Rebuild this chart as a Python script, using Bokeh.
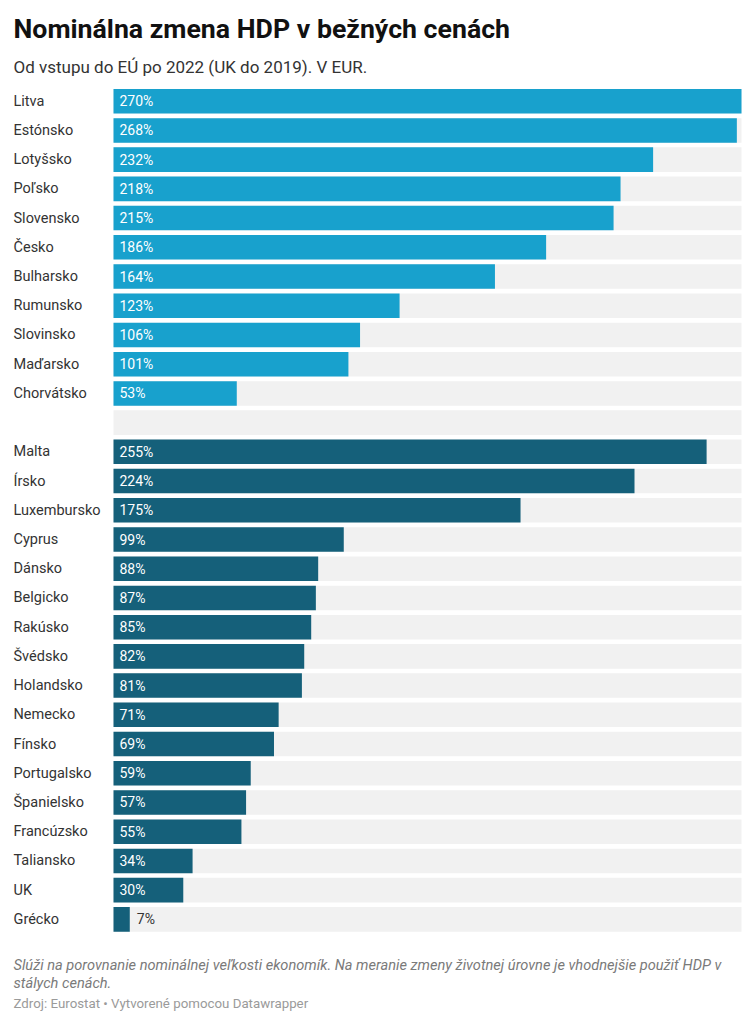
from bokeh.plotting import figure
from bokeh.models import ColumnDataSource, Range1d, Label
from bokeh.core.properties import value
from bokeh.embed import file_html
from bokeh.resources import INLINE

title = "Nominálna zmena HDP v bežných cenách"
subtitle = "Od vstupu do EÚ po 2022 (UK do 2019). V EUR."
note1 = "Slúži na porovnanie nominálnej veľkosti ekonomík. Na meranie zmeny životnej úrovne je vhodnejšie použiť HDP v"
note2 = "stálych cenách."
source_txt = "Zdroj: Eurostat • Vytvorené pomocou Datawrapper"

countries_new = ["Litva", "Estónsko", "Lotyšsko", "Poľsko", "Slovensko", "Česko",
                 "Bulharsko", "Rumunsko", "Slovinsko", "Maďarsko", "Chorvátsko"]
values_new = [270, 268, 232, 218, 215, 186, 164, 123, 106, 101, 53]

countries_old = ["Malta", "Írsko", "Luxembursko", "Cyprus", "Dánsko", "Belgicko",
                 "Rakúsko", "Švédsko", "Holandsko", "Nemecko", "Fínsko", "Portugalsko",
                 "Španielsko", "Francúzsko", "Taliansko", "UK", "Grécko"]
values_old = [255, 224, 175, 99, 88, 87, 85, 82, 81, 71, 69, 59, 57, 55, 34, 30, 7]

COL_NEW = "#18a1cd"
COL_OLD = "#15607a"
TRACK = "#f1f1f1"
FONT = "Roboto"

W, H = 750, 1020
BAR_LEFT, BAR_RIGHT = 113, 741   # pixel span of the value axis
TEXT_X = 13

rows_new = list(range(len(countries_new)))
gap_row = len(countries_new)
rows_old = [gap_row + 1 + i for i in range(len(countries_old))]
n_rows = gap_row + 1 + len(countries_old)

xmax = max(values_new + values_old)
px = (BAR_RIGHT - BAR_LEFT) / xmax
x_start = -BAR_LEFT / px
x_end = xmax + (W - BAR_RIGHT) / px

pitch = 29.22
first_center = 100.7
y_top = -first_center / pitch
y_bottom = y_top + H / pitch

p = figure(width=W, height=H, output_backend="svg", toolbar_location=None,
           x_range=Range1d(x_start, x_end), y_range=Range1d(y_bottom, y_top),
           x_axis_type=None, y_axis_type=None, min_border=0)
p.outline_line_color = None
p.grid.visible = False
p.background_fill_color = "white"
p.border_fill_color = "white"

track_src = ColumnDataSource(dict(y=list(range(n_rows)), r=[xmax] * n_rows))
p.hbar(y="y", left=0, right="r", height=0.84, source=track_src,
       fill_color=TRACK, line_color=None)

for rows, vals, names, col in [(rows_new, values_new, countries_new, COL_NEW),
                               (rows_old, values_old, countries_old, COL_OLD)]:
    src = ColumnDataSource(dict(y=rows, v=vals, name=names))
    p.hbar(y="y", left=0, right="v", height=0.84, source=src,
           fill_color=col, line_color=None)
    p.text(x=0, y="y", text="name", source=src, x_offset=TEXT_X - BAR_LEFT,
           text_align="left", text_baseline="middle", text_font=value(FONT),
           text_font_size="14.5px", text_color="#333333")
    inside = [i for i, v in enumerate(vals) if v * px >= 40]
    outside = [i for i, v in enumerate(vals) if v * px < 40]
    if inside:
        s_in = ColumnDataSource(dict(y=[rows[i] for i in inside],
                                     lab=[f"{vals[i]}%" for i in inside]))
        p.text(x=0, y="y", text="lab", source=s_in, x_offset=6,
               text_align="left", text_baseline="middle", text_font=value(FONT),
               text_font_size="14px", text_color="white")
    if outside:
        s_out = ColumnDataSource(dict(y=[rows[i] for i in outside],
                                      v=[vals[i] for i in outside],
                                      lab=[f"{vals[i]}%" for i in outside]))
        p.text(x="v", y="y", text="lab", source=s_out, x_offset=7,
               text_align="left", text_baseline="middle", text_font=value(FONT),
               text_font_size="14px", text_color="#333333")

def add_label(text, page_y, size, color, style="normal"):
    p.add_layout(Label(x=TEXT_X, y=H - page_y, x_units="screen", y_units="screen",
                       text=text, text_font=FONT, text_font_size=size,
                       text_color=color, text_font_style=style,
                       text_baseline="middle", text_align="left"))

add_label(title, 28, "26.7px", "#111111", "bold")
add_label(subtitle, 66, "17px", "#333333")
add_label(note1, 964, "14.6px", "#7a7a7a", "italic")
add_label(note2, 982, "14.6px", "#7a7a7a", "italic")
add_label(source_txt, 1003, "13.3px", "#9a9a9a")

open("out.html", "w").write(file_html(p, INLINE))
